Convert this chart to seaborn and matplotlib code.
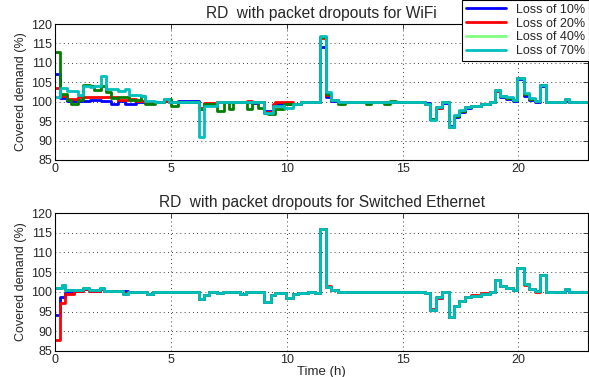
import numpy as np
import pandas as pd
import matplotlib
matplotlib.use("Agg")
import matplotlib.pyplot as plt
from matplotlib.lines import Line2D
import seaborn as sns

# ---- data (step changes, value holds until next time) ----
SERIES = ["Loss of 10%", "Loss of 20%", "Loss of 40%", "Loss of 70%"]
LINE_COLORS = ["#0000ff", "#ff0000", "#008000", "#00bfbf"]
LEGEND_COLORS = ["#0000ff", "#ff0000", "#80ff80", "#00bfbf"]

T_WIFI = [0.0, 0.2, 0.5, 0.7, 1.0, 1.2, 1.5, 1.7, 2.0, 2.2,
          2.4, 2.7, 3.0, 3.2, 3.5, 3.7, 3.9, 4.3, 4.7, 4.9,
          5.0, 5.3, 6.2, 6.45, 7.0, 7.3, 7.5, 7.7, 8.3, 8.5,
          8.75, 9.0, 9.2, 9.4, 9.5, 9.9, 10.25, 10.6, 10.9, 11.2,
          11.45, 11.68, 11.92, 12.2, 12.5, 13.4, 13.65, 14.2, 14.45, 14.7,
          15.95, 16.2, 16.45, 16.7, 17.0, 17.2, 17.45, 17.7, 17.95, 18.4,
          18.75, 19.0, 19.2, 19.45, 19.75, 19.95, 20.25, 20.45, 20.7, 20.95,
          21.2, 22.0, 22.2, 23.0]

WIFI_10 = [107.2, 101.0, 100.2, 100.2, 100.3, 100.3, 100.5, 100.5, 100.3, 100.3,
           99.5, 100.2, 99.3, 99.3, 100.0, 100.0, 100.0, 100.0, 100.2, 100.0,
           100.0, 100.2, 98.0, 99.5, 99.8, 99.8, 99.8, 100.0, 100.0, 99.6,
           99.8, 97.5, 97.5, 99.2, 99.5, 99.5, 99.3, 99.8, 100.0, 99.8,
           114.1, 101.2, 100.3, 100.0, 100.0, 100.0, 100.0, 100.0, 100.0, 100.0,
           99.6, 95.6, 98.3, 99.7, 93.7, 96.0, 97.3, 98.4, 98.8, 99.4,
           100.0, 102.7, 101.3, 100.7, 100.2, 105.9, 101.6, 100.5, 100.0, 104.0,
           100.0, 100.3, 99.9, 99.9]

WIFI_20 = [103.5, 101.5, 100.7, 100.7, 101.3, 101.3, 101.2, 101.2, 101.3, 101.3,
           101.3, 100.5, 100.5, 100.8, 100.3, 100.3, 100.0, 100.0, 100.3, 100.0,
           100.0, 100.0, 98.3, 99.6, 100.0, 100.0, 100.0, 100.0, 100.3, 100.0,
           100.0, 97.3, 97.3, 99.3, 99.8, 99.8, 99.5, 99.8, 100.0, 99.8,
           116.3, 101.7, 100.4, 100.0, 100.0, 100.0, 100.0, 100.0, 100.0, 100.0,
           99.3, 95.5, 98.5, 100.0, 93.6, 96.3, 97.6, 98.6, 99.0, 99.5,
           100.0, 102.8, 101.4, 101.0, 100.4, 106.0, 102.0, 100.7, 100.1, 104.4,
           100.0, 100.5, 100.0, 100.0]

WIFI_40 = [112.7, 102.0, 100.5, 99.5, 100.5, 104.3, 104.0, 103.0, 104.0, 102.5,
           101.0, 101.3, 101.3, 100.5, 100.5, 101.5, 99.5, 100.0, 100.7, 100.7,
           98.9, 100.0, 98.0, 99.5, 97.6, 99.8, 98.0, 100.0, 98.2, 100.0,
           98.5, 97.0, 96.8, 96.8, 98.0, 99.3, 99.5, 99.8, 100.0, 99.8,
           116.6, 102.0, 100.5, 99.3, 100.0, 99.4, 100.0, 99.3, 100.3, 100.0,
           99.5, 95.5, 98.6, 100.0, 93.5, 96.4, 97.7, 98.7, 99.0, 99.5,
           100.0, 102.9, 101.5, 101.0, 100.5, 106.2, 102.1, 100.8, 100.2, 104.2,
           100.0, 100.6, 100.0, 100.0]

WIFI_70 = [101.3, 103.5, 102.7, 102.7, 101.7, 104.0, 103.7, 104.0, 106.7, 103.3,
           103.3, 102.8, 103.2, 101.8, 101.8, 101.6, 100.2, 100.0, 100.6, 100.0,
           100.0, 100.0, 91.0, 99.0, 100.0, 100.0, 100.0, 100.0, 100.0, 100.0,
           100.0, 97.2, 97.2, 99.0, 99.0, 98.4, 99.5, 99.8, 100.0, 99.8,
           116.8, 102.4, 100.5, 100.0, 100.0, 100.0, 100.0, 100.0, 100.0, 100.0,
           99.5, 95.4, 98.7, 100.0, 93.5, 96.5, 97.8, 98.7, 99.0, 99.5,
           100.0, 102.9, 101.5, 101.1, 100.5, 106.1, 102.2, 100.9, 100.3, 104.2,
           100.0, 100.6, 100.0, 100.0]

T_ETH = [0.0, 0.2, 0.3, 0.45, 0.8, 1.2, 1.45, 1.95, 2.1, 2.95,
         3.15, 3.95, 4.25, 6.2, 6.45, 6.65, 7.0, 7.25, 8.0, 8.25,
         9.0, 9.3, 9.5, 9.95, 10.25, 10.5, 10.9, 11.2, 11.45, 11.68,
         11.92, 12.2, 15.95, 16.2, 16.45, 16.7, 17.0, 17.2, 17.45, 17.7,
         17.95, 18.4, 18.75, 19.0, 19.2, 19.45, 19.75, 19.95, 20.25, 20.45,
         20.7, 20.95, 21.2, 22.0, 22.2, 23.0]

ETH_10 = [94.1, 98.6, 98.6, 99.8, 100.2, 100.8, 100.3, 100.8, 100.3, 100.3,
          100.0, 99.5, 100.0, 98.1, 99.3, 100.0, 99.7, 100.0, 99.5, 100.0,
          97.5, 99.2, 99.7, 98.5, 99.4, 99.7, 100.0, 99.7, 115.9, 101.3,
          100.4, 100.0, 99.6, 95.5, 98.4, 100.0, 93.7, 96.3, 97.7, 98.6,
          99.0, 99.5, 100.0, 103.0, 101.5, 101.0, 100.5, 106.0, 102.0, 100.7,
          100.1, 104.3, 100.0, 100.5, 100.0, 100.0]

ETH_20 = [87.8, 97.2, 97.2, 99.4, 100.2, 100.6, 100.2, 100.6, 100.2, 99.6,
          100.0, 99.5, 100.0, 98.1, 99.3, 100.0, 99.7, 100.0, 99.5, 100.0,
          97.5, 99.2, 99.7, 98.5, 99.4, 99.7, 100.0, 99.7, 115.9, 101.6,
          100.4, 100.0, 99.6, 95.6, 98.4, 100.0, 93.7, 96.4, 97.8, 98.8,
          99.1, 99.6, 100.0, 103.0, 101.5, 101.0, 100.4, 106.1, 101.8, 100.6,
          100.0, 104.3, 100.0, 100.6, 100.0, 100.0]

ETH_40 = [101.1, 101.1, 101.8, 100.5, 100.5, 100.9, 100.4, 100.9, 100.3, 99.5,
          100.0, 99.4, 100.0, 98.1, 99.3, 100.0, 99.7, 100.0, 99.5, 100.0,
          97.5, 99.2, 99.7, 98.5, 99.4, 99.7, 100.0, 99.7, 115.9, 101.3,
          100.4, 100.0, 99.6, 95.5, 98.6, 100.0, 93.7, 96.4, 97.8, 98.7,
          99.0, 99.5, 100.0, 103.0, 101.5, 101.0, 100.5, 106.1, 102.1, 100.8,
          100.2, 104.3, 100.0, 100.6, 100.0, 100.0]

ETH_70 = [101.1, 101.1, 101.8, 100.5, 100.5, 100.9, 100.4, 100.9, 100.3, 99.5,
          100.0, 99.4, 100.0, 98.1, 99.3, 100.0, 99.7, 100.0, 99.5, 100.0,
          97.5, 99.2, 99.7, 98.5, 99.4, 99.7, 100.0, 99.7, 115.9, 101.3,
          100.4, 100.0, 99.6, 95.5, 98.6, 100.0, 93.7, 96.4, 97.8, 98.7,
          99.0, 99.5, 100.0, 103.0, 101.5, 101.0, 100.5, 106.1, 102.1, 100.8,
          100.2, 104.3, 100.0, 100.6, 100.0, 100.0]

X_TICKS = [0, 5, 10, 15, 20]
Y_TICKS = [85, 90, 95, 100, 105, 110, 115, 120]


def long_frame(times, series_values):
    rows = []
    for name, vals in zip(SERIES, series_values):
        rows.append(pd.DataFrame({"time": times, "demand": vals, "series": name}))
    return pd.concat(rows, ignore_index=True)


sns.set_style("white")
plt.rcParams["font.family"] = ["Liberation Sans", "DejaVu Sans"]

fig = plt.figure(figsize=(5.89, 3.77), dpi=100)
ax_top = fig.add_axes([0.0934, 0.5756, 0.9049, 0.3607])
ax_bot = fig.add_axes([0.0934, 0.0690, 0.9049, 0.3660])

panels = [
    (ax_top, long_frame(T_WIFI, [WIFI_10, WIFI_20, WIFI_40, WIFI_70]),
     "RD  with packet dropouts for WiFi"),
    (ax_bot, long_frame(T_ETH, [ETH_10, ETH_20, ETH_40, ETH_70]),
     "RD  with packet dropouts for Switched Ethernet"),
]

for ax, df, title in panels:
    sns.lineplot(data=df, x="time", y="demand", hue="series",
                 palette=dict(zip(SERIES, LINE_COLORS)), estimator=None,
                 sort=False, drawstyle="steps-post", linewidth=2.0,
                 legend=False, ax=ax)
    ax.set_xlim(0, 23)
    ax.set_ylim(85, 120)
    ax.set_xticks(X_TICKS)
    ax.set_yticks(Y_TICKS)
    ax.grid(True, color="black", linestyle=(0, (1, 4)), linewidth=0.6)
    ax.tick_params(direction="in", length=3.5, width=0.6, labelsize=9,
                   top=True, right=True, pad=2)
    for sp in ax.spines.values():
        sp.set_visible(True)
        sp.set_color("black")
        sp.set_linewidth(0.8)
    ax.set_ylabel("Covered demand (%)", fontsize=9, labelpad=3)
    ax.set_xlabel("")
    ax.set_title(title, fontsize=11.2, pad=4)

ax_bot.set_xlabel("Time (h)", fontsize=9.5, labelpad=0)

handles = [Line2D([], [], color=c, linewidth=2.0) for c in LEGEND_COLORS]
leg = fig.legend(handles, SERIES, loc="upper right", bbox_to_anchor=(1.0, 1.0),
                 fontsize=9, frameon=True, fancybox=False, framealpha=1,
                 edgecolor="black", handlelength=3.2, handletextpad=0.8,
                 labelspacing=0.15, borderpad=0.3, borderaxespad=0.0)
leg.get_frame().set_linewidth(0.8)

fig.savefig("out.png", dpi=100)
